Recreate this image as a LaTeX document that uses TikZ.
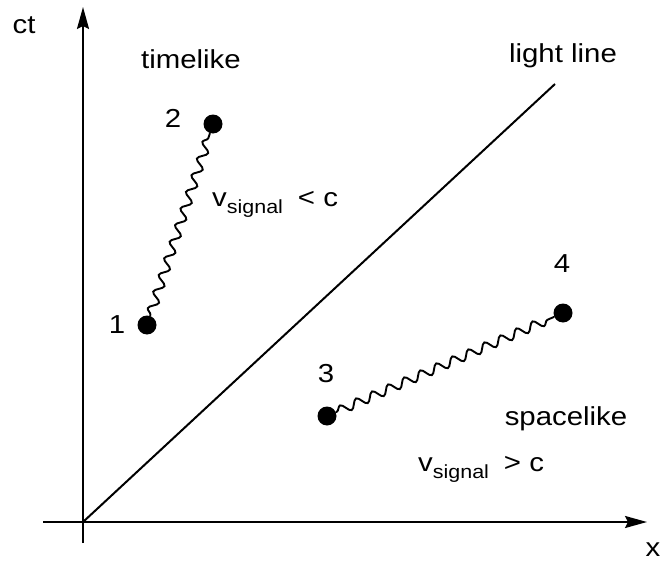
\documentclass[tikz,border=0pt]{standalone}
\usepackage{fontspec}
\setmainfont[FakeStretch=1.13]{Liberation Sans}
\usetikzlibrary{arrows.meta,decorations.pathmorphing}
\newcommand{\vsig}[1]{v\raisebox{-7pt}{\fontsize{19}{20}\selectfont signal}\hspace{15pt}#1 c}
\begin{document}
\begin{tikzpicture}[x=1pt,y=-1pt,
  lbl/.style={font=\fontsize{26}{30}\selectfont, inner sep=0, anchor=base},
  ax/.style={line width=2pt, -{Stealth[length=22pt,width=12pt,inset=3pt]}},
  ev/.style={circle, fill=black, minimum size=19pt, inner sep=0},
  sig/.style={line width=1.9pt, decorate, decoration={snake, amplitude=4.5pt, segment length=17.5pt, pre length=1pt, post length=1pt}}]
\useasboundingbox (0,0) rectangle (665,562);
\coordinate (O) at (83,522);
\coordinate (ytop) at (83,7);
\coordinate (ybot) at (83,543);
\coordinate (xl) at (43,522);
\coordinate (xr) at (647,522);
\coordinate (xb) at (518,522);
\coordinate (L) at (555,84);
\draw[ax] (ybot) -- (ytop);
\draw[ax] (xl) -- (xr);
\draw[line width=2.6pt] (O) -- (xb);
\draw[line width=2pt] (O) -- (L);

\node[ev] (e1) at (147,325) {};
\node[ev] (e2) at (213,124) {};
\node[ev] (e3) at (327,416) {};
\node[ev] (e4) at (563,313) {};
\draw[sig] (e1) -- (e2);
\draw[sig] (e3) -- (e4);

\node[lbl] (ct) at (24,33) {ct};
\node[lbl] (tl) at (191,68) {timelike};
\node[lbl] (ll) at (563,63) {light line};
\node[lbl] (n1) at (117,333) {1};
\node[lbl] (n2) at (173,127) {2};
\node[lbl] (n3) at (326,382) {3};
\node[lbl] (n4) at (562,272) {4};
\node[lbl] (sl) at (566,425) {spacelike};
\node[lbl, anchor=base west] (vs1) at (212,206) {\vsig{<}};
\node[lbl, anchor=base west] (vs2) at (418,471) {\vsig{>}};
\node[lbl] (xlab) at (653,556) {x};
\end{tikzpicture}
\end{document}
